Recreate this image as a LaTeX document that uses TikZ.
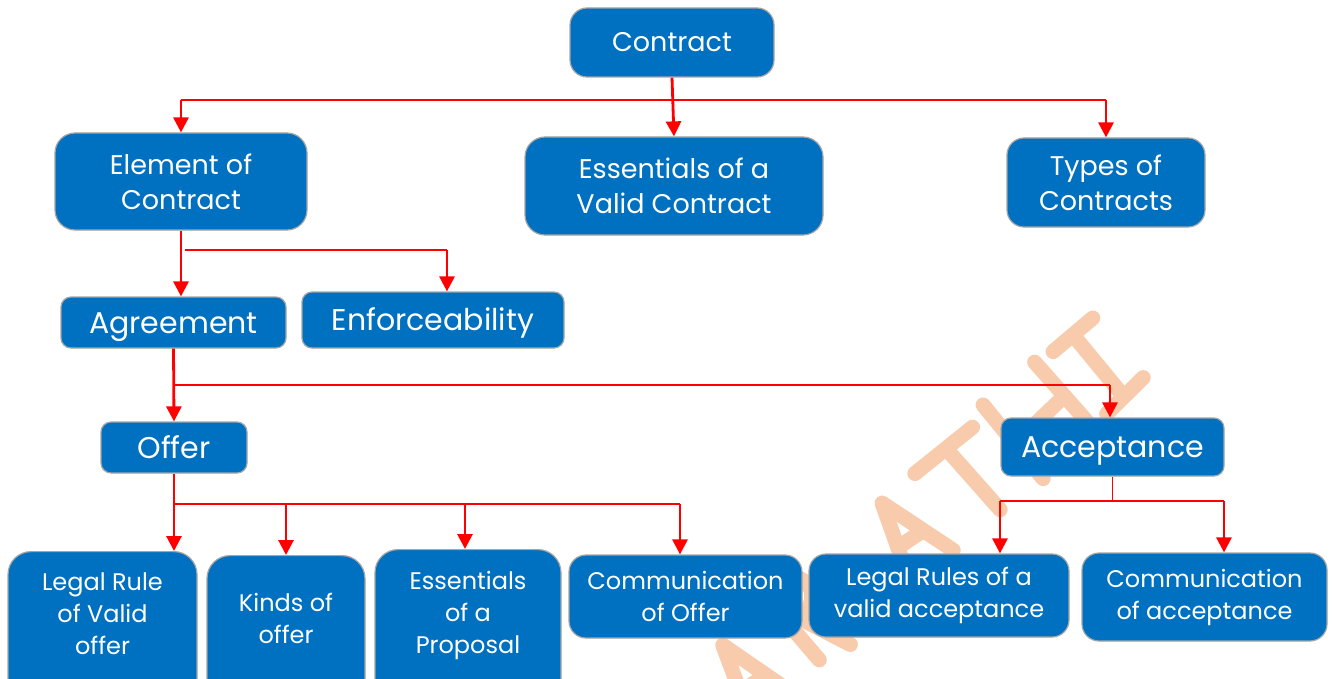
\documentclass[tikz,border=0pt]{standalone}
\usepackage{fontspec}
\setmainfont{Poppins}
\usetikzlibrary{arrows.meta}
\definecolor{boxblue}{HTML}{0070C0}
\definecolor{boxedge}{HTML}{A5A5A5}
\definecolor{linkred}{HTML}{FF0000}
\definecolor{stamp}{HTML}{F8CBAD}

\begin{document}
\begin{tikzpicture}[x=1pt,y=-1pt,
  box/.style={draw=boxedge, line width=1.2pt, fill=boxblue, text=white,
    align=center, inner sep=0pt},
  topbox/.style={box, rounded corners=17pt, font=\fontsize{27}{35}\selectfont},
  midbox/.style={box, rounded corners=10pt, font=\fontsize{30}{36}\selectfont,
    text height=22pt, text depth=1pt},
  lowbox/.style={box, rounded corners=17pt, font=\fontsize{24}{32}\selectfont},
  lowtext/.style={text=white, align=center, inner sep=0pt, font=\fontsize{24}{32}\selectfont},
  link/.style={draw=linkred, line width=1.6pt},
  drop/.style={draw=linkred, line width=2.8pt, -{Triangle[width=15pt,length=15pt]}},
  stroke/.style={draw=stamp, line width=15pt, line cap=round, line join=round}]

\useasboundingbox (0,0) rectangle (1332,679);
\fill[white] (0,0) rectangle (1332,679);
\clip (0,0) rectangle (1332,679);

% hand-lettered stamp running up to the right
\begin{scope}[shift={(882,503)}, rotate=38]
  % A
  \draw[stroke] (-240,100) -- (-213,14) -- (-186,100);
  \draw[stroke] (-226,62) -- (-199,64);
  % R
  \draw[stroke] (-146,85) -- (-150,-2) .. controls (-95,-10) and (-95,45) .. (-148,42);
  \draw[stroke] (-135,42) -- (-112,92);
  % A
  \draw[stroke] (-27,81) -- (0,0) -- (27,81);
  \draw[stroke] (-13,45) -- (15,47);
  % T
  \draw[stroke] (44,-3) -- (118,-4);
  \draw[stroke] (84,-3) -- (89,78);
  % H
  \draw[stroke] (140,-15) -- (142,80);
  \draw[stroke] (207,-17) -- (212,67);
  \draw[stroke] (141,35) -- (209,28);
  % I
  \draw[stroke] (228,-14) -- (280,-16);
  \draw[stroke] (254,-15) -- (256,63);
  \draw[stroke] (232,68) -- (283,62);
\end{scope}

% first level
\node[topbox, minimum width=204, minimum height=69] (contract) at (672,42.5) {Contract};
\node[topbox, rounded corners=20pt, minimum width=252, minimum height=97] (element) at (181,181.5) {Element of\\Contract};
\node[topbox, rounded corners=20pt, minimum width=298, minimum height=98] (valid) at (674,186) {Essentials of a\\Valid Contract};
\node[topbox, minimum width=198, minimum height=89] (types) at (1106,182.5) {Types of\\Contracts};

% second and third level
\node[midbox, minimum width=225, minimum height=51] (agree) at (173.5,322.5) {Agreement};
\node[midbox, minimum width=262, minimum height=56] (enforce) at (433,320) {Enforceability};
\node[midbox, minimum width=146, minimum height=51] (offer) at (174,447.5) {Offer};
\node[midbox, minimum width=223, minimum height=58] (accept) at (1112.5,447) {Acceptance};

% bottom row
\node[lowbox, rounded corners=23pt, anchor=north, minimum width=189, minimum height=160] (rulebox) at (102.5,551) {};
\node[lowtext] (rule) at (102.5,614) {Legal Rule\\of Valid\\offer};
\node[lowbox, rounded corners=23pt, anchor=north, minimum width=158, minimum height=160] (kindsbox) at (286,555) {};
\node[lowtext] (kinds) at (286,618) {Kinds of\\offer};
\node[lowbox, rounded corners=23pt, anchor=north, minimum width=186, minimum height=160] (propbox) at (468,549) {};
\node[lowtext] (prop) at (468,615) {Essentials\\of a\\Proposal};
\node[lowbox, minimum width=233, minimum height=83] (commoffer) at (685.5,596.5) {Communication\\of Offer};
\node[lowbox, minimum width=260, minimum height=83] (legalacc) at (939,595.5) {Legal Rules of a\\valid acceptance};
\node[lowbox, minimum width=245, minimum height=88] (commacc) at (1204.5,597) {Communication\\of acceptance};

% junction points on the horizontal bars
\coordinate (b1l) at (181,100);
\coordinate (b1r) at (1106,100);
\coordinate (b2l) at (185,250);
\coordinate (b2r) at (447,250);
\coordinate (b3l) at (174,385);
\coordinate (b3r) at (1110,385);
\coordinate (b4l) at (175,504);
\coordinate (b4a) at (286,504);
\coordinate (b4b) at (465,504);
\coordinate (b4r) at (680,504);
\coordinate (b5m) at (1112.5,501);
\coordinate (b5l) at (1000,501);
\coordinate (b5r) at (1224,501);

% connectors
\draw[drop] (contract.south) -- (valid.north);
\draw[link] (b1l) -- (b1r);
\draw[drop] (b1l) -- (element.north);
\draw[drop] (b1r) -- (types.north);

\draw[drop] (element.south) -- (element.south |- agree.north);
\draw[link] (b2l) -- (b2r);
\draw[drop] (b2r) -- (b2r |- enforce.north);

\draw[drop] (agree.south) -- (offer.north);
\draw[link] (b3l) -- (b3r);
\draw[drop] (b3r) -- (b3r |- accept.north);

\draw[drop] (offer.south) -- (offer.south |- rulebox.north);
\draw[link] (b4l) -- (b4r);
\draw[drop] (b4a) -- (b4a |- kindsbox.north);
\draw[drop] (b4b) -- (b4b |- propbox.north);
\draw[drop] (b4r) -- (b4r |- commoffer.north);

\draw[link] (accept.south) -- (b5m);
\draw[link] (b5l) -- (b5r);
\draw[drop] (b5l) -- (b5l |- legalacc.north);
\draw[drop] (b5r) -- (b5r |- commacc.north);
\end{tikzpicture}
\end{document}
